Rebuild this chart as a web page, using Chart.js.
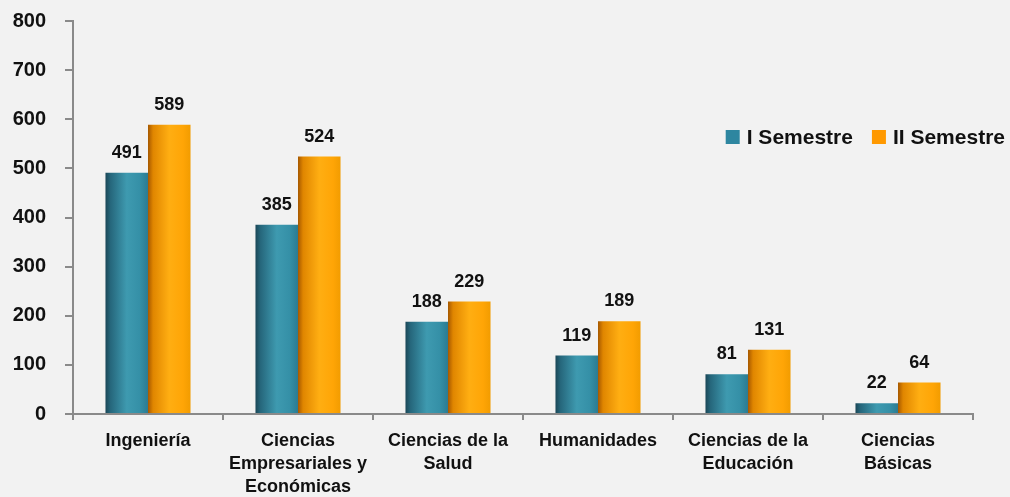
<!DOCTYPE html>
<html>
<head>
<meta charset="utf-8">
<script src="https://cdn.jsdelivr.net/npm/chart.js@4.4.0/dist/chart.umd.min.js"></script>
<style>
html,body{margin:0;padding:0;background:#f2f2f2;}
#wrap{width:1010px;height:497px;}
canvas{display:block;}
</style>
</head>
<body>
<div id="wrap"><canvas id="c" width="1010" height="497"></canvas></div>
<script>
const categories = [
  ["Ingeniería"],
  ["Ciencias", "Empresariales y", "Económicas"],
  ["Ciencias de la", "Salud"],
  ["Humanidades"],
  ["Ciencias de la", "Educación"],
  ["Ciencias", "Básicas"]
];
const seriesNames = ["I Semestre", "II Semestre"];
const semestre1 = [491, 385, 188, 119, 81, 22];
const semestre2 = [589, 524, 229, 189, 131, 64];
const yTicks = { min: 0, max: 800, step: 100 };

const FONT = "'Liberation Sans', Arial, sans-serif";
const CAT_PCT = 0.567;
const gradStops = [
  [[0, '#1b4757'], [0.12, '#26677c'], [0.5, '#3e9ab0'], [0.8, '#3590a7'], [1, '#2b7b92']],
  [[0, '#a65800'], [0.12, '#e08600'], [0.5, '#ffae12'], [0.82, '#ffa506'], [1, '#f29c00']]
];
const legendColors = ['#2e86a0', '#ff9900'];

function barGradient(c) {
  const chart = c.chart;
  const xs = chart.scales.x;
  if (!chart.chartArea || !xs || c.dataIndex === undefined) return legendColors[c.datasetIndex];
  const n = categories.length;
  const catW = (xs.right - xs.left) / n;
  const groupW = catW * CAT_PCT;
  const barW = groupW / 2;
  const center = xs.getPixelForValue(c.dataIndex);
  const left = center - groupW / 2 + c.datasetIndex * barW;
  const g = chart.ctx.createLinearGradient(left, 0, left + barW, 0);
  gradStops[c.datasetIndex].forEach(s => g.addColorStop(s[0], s[1]));
  return g;
}

const valueLabels = {
  id: 'valueLabels',
  afterDatasetsDraw(chart) {
    const ctx = chart.ctx;
    ctx.save();
    ctx.font = "bold 18px " + FONT;
    ctx.fillStyle = '#111';
    ctx.textAlign = 'center';
    ctx.textBaseline = 'alphabetic';
    chart.data.datasets.forEach((ds, di) => {
      chart.getDatasetMeta(di).data.forEach((el, i) => {
        ctx.fillText(String(ds.data[i]), el.x, el.y - 15);
      });
    });
    ctx.restore();
  }
};

const customLegend = {
  id: 'customLegend',
  afterDraw(chart) {
    const ctx = chart.ctx;
    ctx.save();
    ctx.font = "bold 21px " + FONT;
    ctx.textBaseline = 'middle';
    ctx.textAlign = 'left';
    const box = 14, gapBoxText = 7, gapItems = 19;
    const widths = seriesNames.map(s => ctx.measureText(s).width);
    let total = 0;
    widths.forEach((w, i) => { total += box + gapBoxText + w + (i < widths.length - 1 ? gapItems : 0); });
    let x = chart.width - 5 - total;
    const yMid = 137;
    seriesNames.forEach((s, i) => {
      ctx.fillStyle = legendColors[i];
      ctx.fillRect(x, yMid - box / 2, box, box);
      x += box + gapBoxText;
      ctx.fillStyle = '#111';
      ctx.fillText(s, x, yMid + 1);
      x += widths[i] + gapItems;
    });
    ctx.restore();
  }
};

new Chart(document.getElementById('c'), {
  type: 'bar',
  data: {
    labels: categories,
    datasets: [
      { label: seriesNames[0], data: semestre1, backgroundColor: barGradient, borderWidth: 0 },
      { label: seriesNames[1], data: semestre2, backgroundColor: barGradient, borderWidth: 0 }
    ]
  },
  options: {
    responsive: false,
    animation: false,
    events: [],
    layout: { padding: { top: 21, right: 37, left: 0, bottom: 0 } },
    datasets: { bar: { categoryPercentage: CAT_PCT, barPercentage: 1.0 } },
    plugins: { legend: { display: false }, tooltip: { enabled: false } },
    scales: {
      x: {
        grid: { drawOnChartArea: false, offset: true, tickLength: 6, color: '#8a8a8a', lineWidth: 2 },
        border: { color: '#8a8a8a', width: 2 },
        ticks: {
          color: '#111', font: { family: FONT, size: 18, weight: 'bold', lineHeight: 1.3 },
          padding: 9, maxRotation: 0, autoSkip: false
        },
        afterFit(s) { s.height = 83; s.paddingLeft = 0; s.paddingRight = 0; }
      },
      y: {
        min: yTicks.min, max: yTicks.max,
        grid: { drawOnChartArea: false, tickLength: 8, color: '#8a8a8a', lineWidth: 2 },
        border: { color: '#8a8a8a', width: 2 },
        ticks: {
          stepSize: yTicks.step, color: '#111',
          font: { family: FONT, size: 20, weight: 'bold' }, padding: 19
        },
        afterFit(s) { s.width = 73; s.paddingTop = 0; s.paddingBottom = 0; }
      }
    }
  },
  plugins: [valueLabels, customLegend]
});
</script>
</body>
</html>
